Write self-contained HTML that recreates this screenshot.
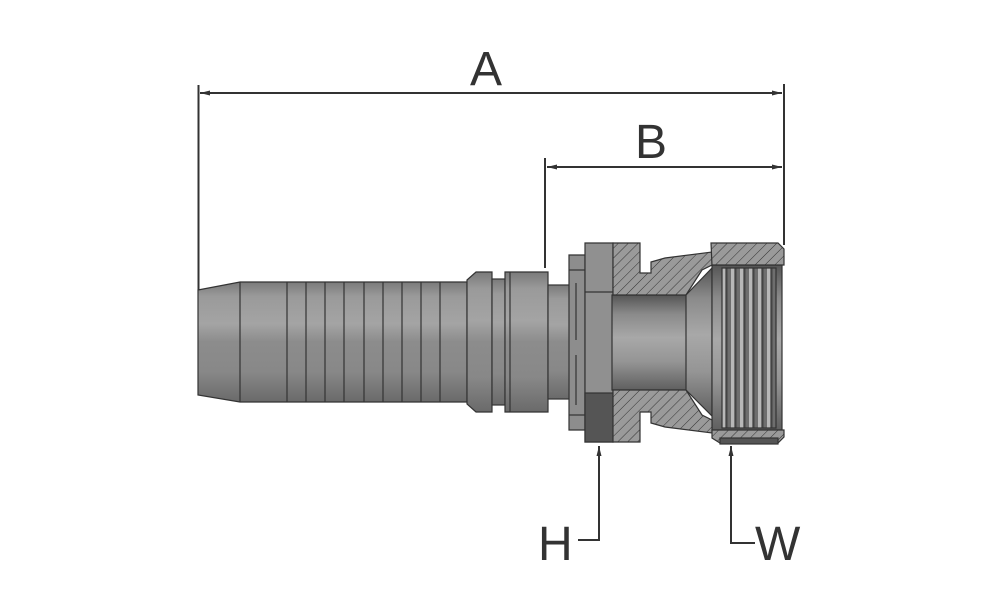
<!DOCTYPE html>
<html><head><meta charset="utf-8"><style>html,body{margin:0;padding:0;background:#fff}svg{display:block}</style></head>
<body>
<svg width="1000" height="611" viewBox="0 0 1000 611" xmlns="http://www.w3.org/2000/svg">
<defs>
<linearGradient id="cyl" x1="0" y1="0" x2="0" y2="1">
<stop offset="0" stop-color="#7a7a7a"/><stop offset="0.12" stop-color="#9a9a9a"/><stop offset="0.35" stop-color="#a4a4a4"/><stop offset="0.5" stop-color="#8c8c8c"/><stop offset="0.75" stop-color="#888"/><stop offset="1" stop-color="#6a6a6a"/>
</linearGradient>
<linearGradient id="bore" x1="0" y1="0" x2="0" y2="1">
<stop offset="0" stop-color="#555"/><stop offset="0.2" stop-color="#8a8a8a"/><stop offset="0.45" stop-color="#a8a8a8"/><stop offset="0.7" stop-color="#959595"/><stop offset="1" stop-color="#5f5f5f"/>
</linearGradient>
<pattern id="hatch" width="7" height="7" patternUnits="userSpaceOnUse" patternTransform="rotate(45)">
<rect width="7" height="7" fill="#9a9a9a"/><line x1="0" y1="0" x2="0" y2="7" stroke="#333" stroke-width="1"/>
</pattern>
<pattern id="thr" width="9" height="10" patternUnits="userSpaceOnUse">
<rect width="9" height="10" fill="#6e6e6e"/><rect x="2" width="3" height="10" fill="#b8b8b8"/><rect x="6" width="1.5" height="10" fill="#444"/>
</pattern>
<marker id="ar" markerWidth="6" markerHeight="4" refX="6" refY="2" orient="auto-start-reverse" markerUnits="userSpaceOnUse"><path d="M0,0 L6,2 L0,4z" fill="#333"/></marker>
<marker id="ar2" markerWidth="10" markerHeight="6" refX="10" refY="3" orient="auto-start-reverse" markerUnits="userSpaceOnUse"><path d="M0,0.5 L10,3 L0,5.5z" fill="#333"/></marker>
</defs>
<g stroke="#333" stroke-width="2" fill="none">
<line x1="198.5" y1="85" x2="198.5" y2="290"/>
<line x1="784" y1="84" x2="784" y2="245"/>
<line x1="545" y1="158" x2="545" y2="268"/>
<line x1="200" y1="93" x2="782" y2="93" marker-start="url(#ar2)" marker-end="url(#ar2)"/>
<line x1="547" y1="167" x2="782" y2="167" marker-start="url(#ar2)" marker-end="url(#ar2)"/>
<polyline points="578,540 599,540 599,446" marker-end="url(#ar2)"/>
<polyline points="755,543 731,543 731,446" marker-end="url(#ar2)"/>
</g>
<g font-family="Liberation Sans, sans-serif" fill="#333" font-size="48">
<text x="470" y="85">A</text><text x="635" y="158">B</text><text x="538" y="560">H</text><text x="755" y="560">W</text>
</g>
<g stroke="#333" stroke-width="1.2">
<path d="M198,290 L240,282 L467,282 L467,402 L240,402 L198,395 Z" fill="url(#cyl)"/>
<g fill="none"><line x1="240" y1="282" x2="240" y2="402"/>
<line x1="287" y1="282" x2="287" y2="402"/><line x1="306" y1="282" x2="306" y2="402"/><line x1="325" y1="282" x2="325" y2="402"/><line x1="344" y1="282" x2="344" y2="402"/><line x1="364" y1="282" x2="364" y2="402"/><line x1="383" y1="282" x2="383" y2="402"/><line x1="402" y1="282" x2="402" y2="402"/><line x1="421" y1="282" x2="421" y2="402"/><line x1="440" y1="282" x2="440" y2="402"/></g>
<path d="M467,280 L476,272 L492,272 L492,412 L476,412 L467,404 Z" fill="url(#cyl)"/>
<rect x="492" y="279" width="13" height="126" fill="url(#cyl)"/>
<path d="M505,272 L548,272 L548,412 L505,412 Z" fill="url(#cyl)"/>
<line x1="510" y1="272" x2="510" y2="412"/>
<rect x="548" y="285" width="22" height="114" fill="url(#cyl)"/>
<path d="M569,255 L585,255 L585,430 L569,430 Z" fill="#8d8d8d"/>
<line x1="569" y1="270" x2="585" y2="270"/><line x1="569" y1="415" x2="585" y2="415"/>
<line x1="576" y1="283" x2="576" y2="340"/><line x1="576" y1="355" x2="576" y2="405"/>
<path d="M585,243 L613,243 L613,442 L585,442 Z" fill="#909090"/>
<line x1="585" y1="292" x2="613" y2="292"/><rect x="585" y="393" width="28" height="49" fill="#555"/>
<rect x="612" y="295" width="75" height="95" fill="url(#bore)"/>
<path d="M686,295 L712,268 L712,416 L686,390 Z" fill="url(#bore)"/>
<rect x="712" y="265" width="70" height="165" fill="url(#bore)"/>
<rect x="722" y="268" width="54" height="160" fill="url(#thr)"/>
<path d="M613,243 L640,243 L640,273 L651,273 L651,262 L665,258 L712,252 L712,265 L702,270 L686,295 L613,295 Z" fill="url(#hatch)"/>
<path d="M613,390 L686,390 L702,415 L712,420 L712,433 L665,427 L651,423 L651,412 L640,412 L640,442 L613,442 Z" fill="url(#hatch)"/>
<path d="M711,243 L778,243 L784,249 L784,265 L712,265 Z" fill="url(#hatch)"/>
<path d="M712,430 L784,430 L784,437 L778,443 L720,443 L712,438 Z" fill="url(#hatch)"/>
<rect x="720" y="438" width="58" height="6" fill="#555"/>
</g>
</svg>
</body></html>
